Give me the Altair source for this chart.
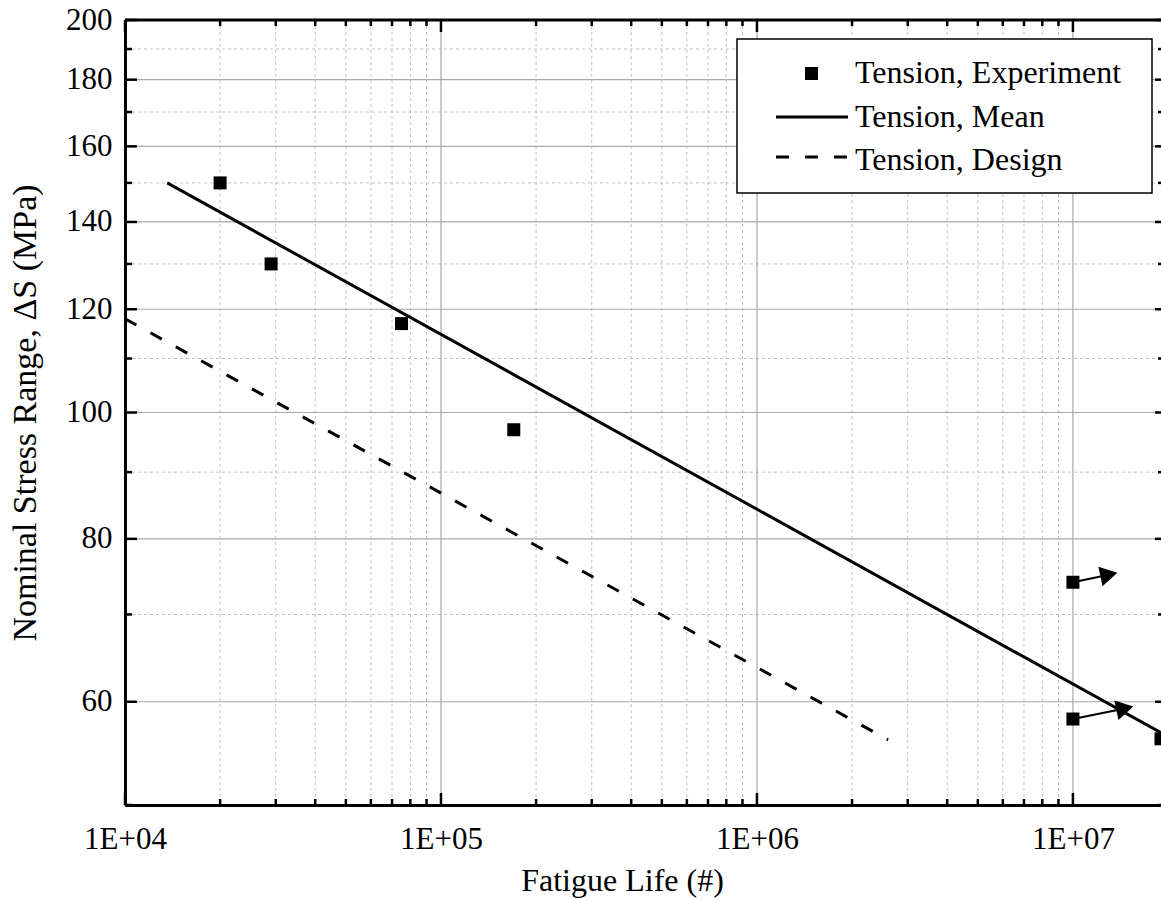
import altair as alt
import pandas as pd

# ---- data -------------------------------------------------------------
# experimental tension results (cycles, stress range in MPa)
exp_life = [2.0e4, 2.9e4, 7.5e4, 1.7e5, 1.0e7, 1.0e7, 1.9e7]
exp_stress = [150, 130, 117, 97, 74.1, 58.2, 56.2]

# mean and design S-N curves (end points)
mean_life = [1.36e4, 1.9e7]
mean_stress = [150, 56.8]
design_life = [1.0e4, 2.6e6]
design_stress = [118, 56.1]

# run-out arrows (specimens that did not fail)
runout_life = [1.0e7, 1.0e7]
runout_stress = [74.1, 58.2]
runout_life_end = [1.3e7, 1.46e7]
runout_stress_end = [75.1, 59.3]

# axes
x_domain = [1.0e4, 1.9e7]
y_domain = [50, 200]
x_major = [1e4, 1e5, 1e6, 1e7]
x_major_labels = ["1E+04", "1E+05", "1E+06", "1E+07"]
x_minor = [k * 10 ** d for d in (4, 5, 6) for k in range(2, 10)]
y_major = [60, 80, 100, 120, 140, 160, 180, 200]
y_minor = [50, 70, 90, 110, 130, 150, 170, 190]

legend_labels = ["Tension, Experiment", "Tension, Mean", "Tension, Design"]

# ---- layout -----------------------------------------------------------
W, H = 1036, 785
FONT = "Liberation Serif"

xs = alt.Scale(type="log", domain=x_domain, nice=False)
ys = alt.Scale(type="log", domain=y_domain, nice=False, zero=False)

label_expr = " : ".join(
    f"datum.value == {v:.0f} ? '{t}'" for v, t in zip(x_major, x_major_labels)
) + " : ''"

x_axis = alt.Axis(
    values=x_major, labelExpr=label_expr, grid=False, ticks=False,
    domainColor="black", domainWidth=3, labelFont=FONT, labelFontSize=31,
    labelColor="black", labelBaseline="alphabetic", labelPadding=43,
    labelFlush=False, labelOverlap=False,
    title="Fatigue Life (#)", titleFont=FONT, titleFontSize=32,
    titleFontWeight="normal", titleColor="black", titleX=497, titleY=85,
    titleAlign="center", titleBaseline="alphabetic", zindex=2,
)
y_axis = alt.Axis(
    values=y_major, format="d", grid=False, ticks=False,
    domainColor="black", domainWidth=3, labelFont=FONT, labelFontSize=31,
    labelColor="black", labelPadding=13, labelFlush=False, labelOverlap=False,
    title="Nominal Stress Range, ΔS (MPa)", titleFont=FONT, titleFontSize=34,
    titleFontWeight="normal", titleColor="black", titlePadding=23, zindex=2,
)

df_exp = pd.DataFrame({"life": exp_life, "stress": exp_stress})
df_mean = pd.DataFrame({"life": mean_life, "stress": mean_stress})
df_design = pd.DataFrame({"life": design_life, "stress": design_stress})
df_run = pd.DataFrame({
    "life": runout_life, "stress": runout_stress,
    "life2": runout_life_end, "stress2": runout_stress_end,
})
df_xmaj = pd.DataFrame({"v": x_major})
df_xmin = pd.DataFrame({"v": x_minor})
df_ymaj = pd.DataFrame({"v": y_major})
df_ymin = pd.DataFrame({"v": y_minor})
one = alt.Data(values=[{}])

X = lambda f="life": alt.X(f"{f}:Q", scale=xs, axis=x_axis)
Y = lambda f="stress": alt.Y(f"{f}:Q", scale=ys, axis=y_axis)

# grid
grid_x_minor = alt.Chart(df_xmin).mark_rule(color="#c0c0c0", strokeWidth=1, strokeDash=[3, 3]).encode(
    x=alt.X("v:Q", scale=xs, axis=x_axis))
grid_y_minor = alt.Chart(df_ymin).mark_rule(color="#c0c0c0", strokeWidth=1, strokeDash=[3, 3]).encode(
    y=alt.Y("v:Q", scale=ys, axis=y_axis))
grid_x_major = alt.Chart(df_xmaj).mark_rule(color="#a8a8a8", strokeWidth=1.2).encode(
    x=alt.X("v:Q", scale=xs, axis=x_axis))
grid_y_major = alt.Chart(df_ymaj).mark_rule(color="#a8a8a8", strokeWidth=1.2).encode(
    y=alt.Y("v:Q", scale=ys, axis=y_axis))

# curves
mean_line = alt.Chart(df_mean).mark_line(color="black", strokeWidth=3, clip=True).encode(
    x=X(), y=Y())
design_line = alt.Chart(df_design).mark_line(color="black", strokeWidth=3, strokeDash=[13, 16],
                                             clip=True).encode(x=X(), y=Y())

# experimental points
points = alt.Chart(df_exp).mark_square(size=169, color="black", opacity=1, clip=True).encode(
    x=X(), y=Y())

# run-out arrows
shafts = alt.Chart(df_run).mark_rule(color="black", strokeWidth=2).encode(
    x=X(), y=Y(), x2="life2:Q", y2="stress2:Q")
heads = alt.Chart(df_run).mark_point(shape="triangle-right", filled=True, color="black",
                                     opacity=1, size=400, angle=348).encode(
    x=X("life2"), y=Y("stress2"))

# inward ticks on all four sides
def yticks(df, length, right=False):
    x0, x1 = (W - length, W) if right else (0, length)
    return alt.Chart(df).mark_rule(color="black", strokeWidth=2.5).encode(
        y=alt.Y("v:Q", scale=ys, axis=y_axis), x=alt.value(x0), x2=alt.value(x1))

def xticks(df, length, top=False):
    y0, y1 = (0, length) if top else (H - length, H)
    return alt.Chart(df).mark_rule(color="black", strokeWidth=2.5).encode(
        x=alt.X("v:Q", scale=xs, axis=x_axis), y=alt.value(y0), y2=alt.value(y1))

ticks = [
    yticks(df_ymaj, 12), yticks(df_ymin, 7),
    yticks(df_ymaj, 6, right=True), yticks(df_ymin, 3, right=True),
    xticks(df_xmaj, 12), xticks(df_xmin, 6),
    xticks(df_xmaj, 12, top=True), xticks(df_xmin, 6, top=True),
]
top_frame = alt.Chart(one).mark_rule(color="black", strokeWidth=3).encode(
    x=alt.value(0), x2=alt.value(W), y=alt.value(0))

# legend
leg_box = alt.Chart(one).mark_rect(fill="white", stroke="black", strokeWidth=1.5).encode(
    x=alt.value(612), x2=alt.value(1027), y=alt.value(19), y2=alt.value(173))
leg_sq = alt.Chart(one).mark_square(size=169, color="black", opacity=1).encode(
    x=alt.value(686.5), y=alt.value(53.5))
leg_mean = alt.Chart(one).mark_rule(color="black", strokeWidth=3).encode(
    x=alt.value(651), x2=alt.value(723), y=alt.value(97))
leg_design = alt.Chart(one).mark_rule(color="black", strokeWidth=3, strokeDash=[13, 16]).encode(
    x=alt.value(651), x2=alt.value(723), y=alt.value(137))
leg_texts = [
    alt.Chart(one).mark_text(font=FONT, fontSize=32, align="left", baseline="alphabetic",
                             color="black").encode(
        x=alt.value(730), y=alt.value(yy), text=alt.value(t))
    for t, yy in zip(legend_labels, [63, 107, 150])
]

chart = alt.layer(
    grid_x_minor, grid_y_minor, grid_x_major, grid_y_major,
    design_line, mean_line, shafts, heads, points,
    *ticks, top_frame,
    leg_box, leg_sq, leg_mean, leg_design, *leg_texts,
).properties(
    width=W, height=H,
    autosize=alt.AutoSizeParams(type="none"),
    padding={"left": 125, "top": 20, "right": 0, "bottom": 96},
).configure_view(stroke=None).configure(background="white")

chart.save("out.html", embed_options={"renderer": "svg", "actions": False})
